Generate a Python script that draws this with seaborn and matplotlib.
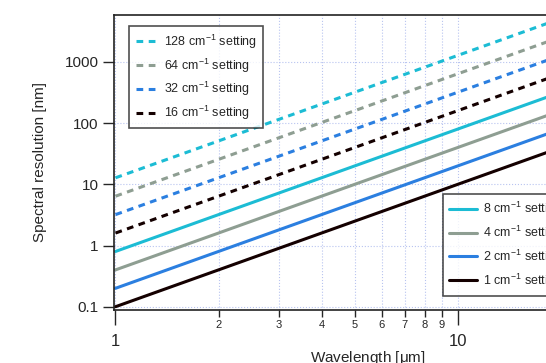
import numpy as np
import pandas as pd
import matplotlib
matplotlib.use("Agg")
import matplotlib.pyplot as plt
import seaborn as sns
from matplotlib.ticker import FixedLocator, NullLocator

sns.set_style("white")
plt.rcParams['font.family'] = ['Liberation Sans', 'DejaVu Sans']
plt.rcParams['mathtext.default'] = 'regular'

# values (straight lines on log-log axes)
wavelength = [1, 30]
settings = [128, 64, 32, 16, 8, 4, 2, 1]
res_at_1um = [12.8, 6.4, 3.2, 1.6, 0.8, 0.4, 0.2, 0.1]
res_at_30um = [11520, 5760, 2880, 1440, 720, 360, 180, 90]
colors = ['#1cbcd4', '#8e9e92', '#2b7fe0', '#140000',
          '#1cbcd4', '#8e9e92', '#2b7fe0', '#140000']

fig = plt.figure(figsize=(5.46, 3.63), dpi=100)
ax = fig.add_axes([114 / 546, 53 / 363, 507 / 546, 295 / 363])

dashed_h, solid_h = [], []
for s, y0, y1, c in zip(settings, res_at_1um, res_at_30um, colors):
    df = pd.DataFrame({'wl': wavelength, 'res': [y0, y1]})
    dashed = s >= 16
    sns.lineplot(data=df, x='wl', y='res', ax=ax, color=c, lw=2.2,
                 linestyle=(0, (2.2, 1.8)) if dashed else '-',
                 label=f'{s} cm$^{{-1}}$ setting')
    (dashed_h if dashed else solid_h).append(ax.lines[-1])

ax.set_xscale('log')
ax.set_yscale('log')
ax.set_xlim(0.99, 30)
ax.set_ylim(0.0884, 5860)

ax.xaxis.set_major_locator(FixedLocator([1, 10]))
ax.xaxis.set_minor_locator(FixedLocator([2, 3, 4, 5, 6, 7, 8, 9, 20]))
ax.set_xticklabels(['1', '10'])
ax.set_xticklabels(['2', '3', '4', '5', '6', '7', '8', '9', ''], minor=True)
ax.yaxis.set_major_locator(FixedLocator([0.1, 1, 10, 100, 1000]))
ax.yaxis.set_minor_locator(NullLocator())
ax.set_yticklabels(['0.1', '1', '10', '100', '1000'])

ax.tick_params(axis='x', which='major', direction='out', length=11, width=1.0,
               labelsize=12, pad=6, bottom=True)
ax.tick_params(axis='x', which='minor', direction='out', length=5, width=1.0,
               labelsize=8, pad=2, bottom=True)
ax.tick_params(axis='y', which='major', direction='out', length=8, width=1.0,
               labelsize=11, pad=3, left=True)

ax.grid(True, which='both', axis='x', color='#b8c4f0', lw=0.8, ls=':')
ax.grid(True, which='major', axis='y', color='#b8c4f0', lw=0.8, ls=':')
for sp in ax.spines.values():
    sp.set_color('#222222')
    sp.set_linewidth(1.2)

ax.set_xlabel('Wavelength [$\\mu$m]', fontsize=11, labelpad=0)
ax.set_ylabel('Spectral resolution [nm]', fontsize=11, labelpad=13)

leg1 = ax.legend(handles=dashed_h, loc='upper left', bbox_to_anchor=(9 / 507, 0.983),
                 fontsize=9, frameon=True, fancybox=False, edgecolor='#222222',
                 handlelength=1.8, handletextpad=0.5, borderpad=0.5, labelspacing=0.45)
leg1.get_frame().set_linewidth(1.2)
ax.add_artist(leg1)
leg2 = ax.legend(handles=solid_h, loc='lower left', bbox_to_anchor=(0.637, 0.027),
                 fontsize=9, frameon=True, fancybox=False, edgecolor='#222222',
                 handlelength=2.2, handletextpad=0.5, borderpad=0.5, labelspacing=0.45)
leg2.get_frame().set_linewidth(1.2)

fig.savefig('out.png', dpi=100)
